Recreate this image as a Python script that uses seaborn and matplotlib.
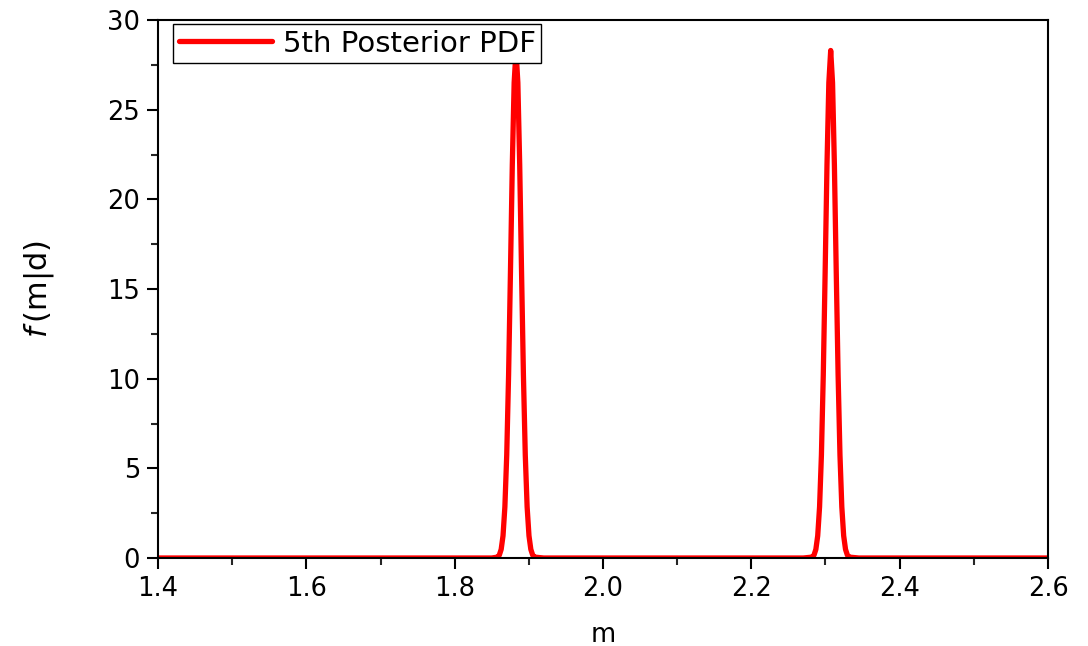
import numpy as np
import pandas as pd
import matplotlib
matplotlib.use("Agg")
import matplotlib.pyplot as plt
import seaborn as sb
from matplotlib.ticker import MultipleLocator

# Posterior PDF values
m_vals = [1.400, 1.850,
          1.8577, 1.8602, 1.8627, 1.8652, 1.8677, 1.8702, 1.8727, 1.8752, 1.8777, 1.8802,
          1.8827,
          1.8852, 1.8877, 1.8902, 1.8927, 1.8952, 1.8977, 1.9002, 1.9027, 1.9052, 1.9077,
          1.920, 2.270,
          2.2820, 2.2845, 2.2870, 2.2895, 2.2920, 2.2945, 2.2970, 2.2995, 2.3020, 2.3045,
          2.3070,
          2.3095, 2.3120, 2.3145, 2.3170, 2.3195, 2.3220, 2.3245, 2.3270, 2.3295, 2.3320,
          2.345, 2.600]
pdf_vals = [0.0, 0.0,
            0.05, 0.16, 0.48, 1.24, 2.85, 5.75, 10.2, 15.9, 21.9, 26.5,
            28.3,
            26.5, 21.9, 15.9, 10.2, 5.75, 2.85, 1.24, 0.48, 0.16, 0.05,
            0.0, 0.0,
            0.05, 0.16, 0.48, 1.24, 2.85, 5.75, 10.2, 15.9, 21.9, 26.5,
            28.3,
            26.5, 21.9, 15.9, 10.2, 5.75, 2.85, 1.24, 0.48, 0.16, 0.05,
            0.0, 0.0]

df = pd.DataFrame({'m': m_vals, 'pdf': pdf_vals})

sb.set_style('ticks')
plt.rcParams['font.family'] = ['DejaVu Sans']
plt.rcParams['mathtext.fontset'] = 'dejavusans'
plt.rcParams['text.color'] = 'black'
plt.rcParams['axes.labelcolor'] = 'black'

fig = plt.figure(figsize=(10.88, 6.46), dpi=100)
ax = fig.add_axes([158/1088, 1 - 558/646, 890/1088, 538/646])

sb.lineplot(data=df, x='m', y='pdf', color='#ff0000', linewidth=3.8,
            label='5th Posterior PDF', ax=ax, estimator=None, sort=False)

ax.set_xlim(1.4, 2.6)
ax.set_ylim(0, 30)
ax.xaxis.set_major_locator(MultipleLocator(0.2))
ax.xaxis.set_minor_locator(MultipleLocator(0.1))
ax.yaxis.set_major_locator(MultipleLocator(5))
ax.yaxis.set_minor_locator(MultipleLocator(2.5))
ax.tick_params(which='major', direction='out', length=8, width=1.5, labelsize=18.5,
               top=False, right=False, colors='black', pad=5)
ax.tick_params(which='minor', direction='out', length=5, width=1.5,
               top=False, right=False)
for s in ax.spines.values():
    s.set_linewidth(1.5)
    s.set_color('black')

ax.set_xlabel('m', fontsize=18.5, labelpad=14, color='black')
ax.set_ylabel(r'$f\,$(m|d)', fontsize=22, labelpad=37, color='black')

leg = ax.legend(loc='upper left', fontsize=21, frameon=True, fancybox=False,
                framealpha=1.0, handlelength=3.2, handletextpad=0.35,
                borderpad=0.2, borderaxespad=0.0, bbox_to_anchor=(0.017, 0.993))
leg.get_frame().set_edgecolor('black')
leg.get_frame().set_linewidth(1.0)
for t in leg.get_texts():
    t.set_color('black')

fig.savefig('out.png', dpi=100)
